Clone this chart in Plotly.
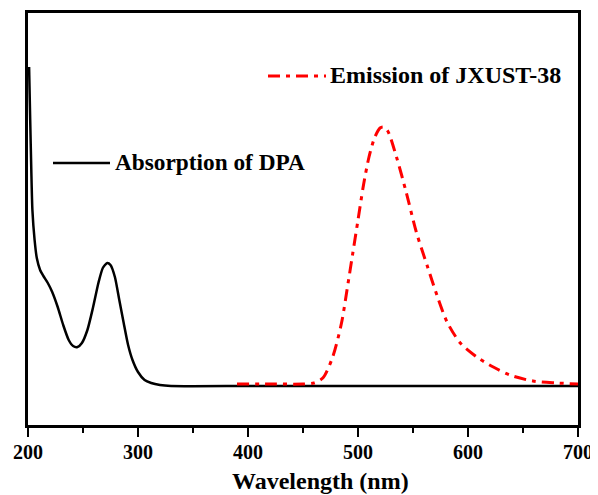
import plotly.graph_objects as go

abs_wl = [201, 202, 203, 204, 206, 208, 211, 214, 218, 222, 227, 232, 237, 241, 245, 249, 254, 259,
          264, 268, 272, 275, 279, 283, 287, 291, 295, 300, 306, 312, 320, 330, 400, 500, 600, 700]
abs_int = [358, 305, 255, 215, 185, 167, 155, 149, 142, 133, 118, 100, 85, 79, 78, 82, 95, 117,
           142, 157, 162, 160, 148, 125, 102, 80, 65, 53, 45, 42, 40, 39, 39, 39, 39, 39]

em_wl = [390, 420, 450, 460, 468, 477, 485, 490, 495, 500, 505, 510, 515, 520, 523, 527, 535, 544,
         553, 563, 572, 581, 593, 608, 623, 638, 659, 681, 700]
em_int = [41, 41, 41, 42, 47, 68, 102, 135, 170, 205, 240, 268, 287, 297, 298, 294, 268, 232,
          193, 159, 129, 103, 82, 68, 58, 50, 44, 42, 41]

x_ticks = [200, 300, 400, 500, 600, 700]

FONT = "Liberation Serif"

fig = go.Figure()
fig.add_trace(go.Scatter(x=abs_wl, y=abs_int, mode="lines", name="Absorption of DPA",
                         line=dict(color="black", width=2.5, shape="spline", smoothing=0.6)))
fig.add_trace(go.Scatter(x=em_wl, y=em_int, mode="lines", name="Emission of JXUST-38",
                         line=dict(color="#ff0000", width=3, dash="12px,6px,4px,6px",
                                   shape="spline", smoothing=0.8)))

# legend-like samples
fig.add_shape(type="line", xref="paper", yref="paper", x0=(53-28)/550, x1=(110-28)/550,
              y0=(425-163)/412, y1=(425-163)/412, line=dict(color="black", width=2.5))
fig.add_annotation(text="Absorption of DPA", xref="paper", yref="paper",
                   x=(113-28)/550, y=(425-162)/412, xanchor="left", yanchor="middle",
                   showarrow=False, font=dict(family=FONT, size=23.3, color="black", weight="bold"))
fig.add_shape(type="line", xref="paper", yref="paper", x0=(268-28)/550, x1=(326-28)/550,
              y0=(425-76)/412, y1=(425-76)/412,
              line=dict(color="#ff0000", width=3, dash="12px,6px,4px,6px"))
fig.add_annotation(text="Emission of JXUST-38", xref="paper", yref="paper",
                   x=(328-28)/550, y=(425-75)/412, xanchor="left", yanchor="middle",
                   showarrow=False, font=dict(family=FONT, size=24, color="black", weight="bold"))
fig.add_annotation(text="Wavelength (nm)", xref="paper", yref="paper",
                   x=(320-28)/550, y=-56/412, xanchor="center", yanchor="middle",
                   showarrow=False, font=dict(family=FONT, size=24, color="black", weight="bold"))

# the page body adds an 8px offset, so the figure is 8px smaller and margins shifted
fig.update_layout(
    width=590, height=487,
    margin=dict(l=20, r=20, t=5, b=70, autoexpand=False),
    paper_bgcolor="white", plot_bgcolor="white",
    showlegend=False,
    xaxis=dict(range=[200, 700], tickvals=x_ticks, ticks="outside", ticklen=9, tickwidth=2,
               tickcolor="black", showline=True, linecolor="black", linewidth=2.5, mirror=True,
               showgrid=False, zeroline=False, automargin=False, ticklabelstandoff=-2,
               tickfont=dict(family=FONT, size=20, color="black", weight="bold"),
               minor=dict(tickvals=[250, 350, 450, 550, 650], ticks="outside", ticklen=5,
                          tickwidth=2, tickcolor="black")),
    yaxis=dict(range=[0, 412], showticklabels=False, ticks="", showline=True, linecolor="black",
               linewidth=2.5, mirror=True, showgrid=False, zeroline=False, automargin=False),
)

fig.write_html("out.html")
